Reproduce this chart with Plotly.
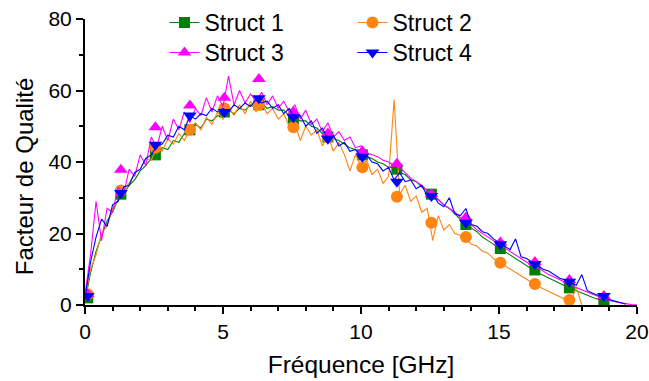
import plotly.graph_objects as go

# Frequency grid (GHz) for the measured curves
freq = [round(i * 0.2, 1) for i in range(101)]

s1_q = [1, 9, 15, 19, 23.5, 26, 29.5, 31, 33.5, 35, 37.5, 39, 41, 41.5, 44, 43.5, 46, 45.5, 48, 48.5,
        50.5, 49.5, 52, 51.5, 53, 52.5, 54.5, 53.5, 55, 54.5, 56, 55, 56.5, 55, 55.5, 54.5, 54.5, 53, 52.5, 51.5,
        51.5, 50, 49.5, 48, 47.5, 46.5, 46, 45, 44, 43.5, 42.5, 41.5, 41, 40, 39.5, 38.5, 38.5, 37, 36.5, 35,
        34.5, 33, 32, 30.5, 29.5, 28, 27, 25.5, 24, 23, 21.5, 20.5, 19, 18, 17, 16, 15, 14, 13, 12,
        11, 10, 9, 8.3, 7.5, 6.8, 6, 5.3, 4.6, 3.9, 3.3, 2.7, 2.1, 1.5, 1, 0.5,
        None, None, None, None, None]

s2_q = [2, 10, 14, 20, 22, 27, 29, 32.5, 34, 37, 38, 41, 40.5, 44, 43, 46.5, 45, 48, 46, 49,
        51, 49, 52.5, 50.5, 54, 52, 55.5, 53, 56, 53.5, 57, 54, 56.5, 53.5, 55, 52, 53.5, 50, 51, 46,
        50, 47.5, 49, 44.5, 47.5, 43, 45.5, 42, 37.5, 42, 39, 40.5, 36.5, 38, 34, 36, 57.5, 31, 33.5, 29,
        30.5, 26, 27, 18, 25, 21, 22.5, 20, 19.5, 18.5, 17, 16.5, 15, 14.5, 13, 12, 11, 10, 9, 8,
        7, 6.2, 5.3, 4.5, 3.8, 3, 2.3, 1.6, 1, 5, 0,
        None, None, None, None, None, None, None, None, None, None]

s3_q = [3, 14, 29, 18, 27, 26, 33, 31, 38, 36, 42, 39, 47, 44, 50, 46, 52, 49, 54, 51,
        55, 53, 58, 54, 58.5, 55.5, 64, 56, 60, 56.5, 59, 57, 59.5, 56, 58.5, 55, 57, 54, 56, 52,
        54.5, 50.5, 52, 48.5, 51, 47, 48.5, 46, 47, 44, 44.5, 42.5, 42, 41.5, 40.5, 40, 39, 38.5, 37, 35.5,
        34.5, 33.5, 32, 30.5, 29.5, 28, 27, 26, 24.5, 23.5, 22.5, 21, 20, 19, 18, 17, 16, 15, 14, 13,
        12, 11, 10.5, 9.5, 8.5, 7.8, 7, 6.3, 5.6, 4.9, 4.2, 3.6, 3, 2.4, 1.8, 1.3, 0.9, 0.6, 0.3, 0.1, 0]

s4_q = [2, 12, 19, 24, 22, 28, 29, 33, 33.5, 37, 38, 41, 42, 44.5, 45, 47.5, 47, 50, 49, 53,
        52, 53.5, 53, 55, 54, 55, 54, 56, 55, 56.5, 55.5, 57.5, 56.5, 57, 55, 56, 53.5, 55, 52, 53,
        50, 51.5, 48, 49.5, 46.5, 47.5, 44.5, 45.5, 43, 43.5, 41.5, 42, 40, 39.5, 37.5, 38.5, 35, 37, 34.5, 35,
        32.5, 33.5, 30.5, 31, 28.5, 27.5, 30, 25.5, 25, 27, 22.5, 22, 20.5, 20, 18.5, 17.5, 16.5, 15.5, 18.5, 13.5,
        13, 12, 11, 10, 9.5, 8.5, 7.5, 7, 6.2, 5.5, 8.5, 4, 3.3, 2.6, 2, 1.5, 1, 0.6, 0.2, None, None]

# Sparse marker positions
mark_f = [0.1, 1.3, 2.55, 3.8, 5.05, 6.3, 7.55, 8.8, 10.05, 11.3, 12.55, 13.8, 15.05, 16.3, 17.55, 18.8]
s1_m = [2, 31, 42, 49, 54, 56, 52, 47, 42, 38, 31, 22.5, 15.8, 9.8, 4.8, 0.9]
s2_m = [3, 32, 44, 49, 55, 56, 49.7, 47, 38.5, 30.3, 23, 19, 11.8, 5.9, 1.4, None]
s3_m = [3, 37.8, 49.7, 55.8, 58, 63.2, 54, 48, 43, 39.5, 31, 24.5, 17.5, 12, 7, 2.5]
s4_m = [2.5, 31.3, 44.8, 53, 54, 57.8, 52.5, 46.5, 41.5, 34.5, 30.5, 23, 17, 11.5, 6.5, 2.5]

names = ["Struct 1", "Struct 2", "Struct 3", "Struct 4"]
colors = ["#008000", "#FF8411", "#FF00FF", "#0000FF"]
symbols = ["square", "circle", "triangle-up", "triangle-down"]
msizes = [11, 12, 12, 12]
legend_ids = ["legend", "legend", "legend2", "legend2"]
series = [s1_q, s2_q, s3_q, s4_q]
marks = [s1_m, s2_m, s3_m, s4_m]

fig = go.Figure()
for name, col, sym, ms, ys, my in zip(names, colors, symbols, msizes, series, marks):
    fig.add_trace(go.Scatter(x=freq, y=ys, mode="lines", line=dict(color=col, width=1.1),
                             showlegend=False, connectgaps=False, hoverinfo="skip"))
    fig.add_trace(go.Scatter(x=mark_f, y=my, mode="markers",
                             marker=dict(symbol=sym, size=ms, color=col, line=dict(width=0)),
                             showlegend=False))
for name, col, sym, ms, lg in zip(names, colors, symbols, msizes, legend_ids):
    fig.add_trace(go.Scatter(x=[None], y=[None], mode="lines+markers", name=name, legend=lg,
                             line=dict(color=col, width=1.1),
                             marker=dict(symbol=sym, size=ms, color=col)))

font = "Liberation Sans, Arial, sans-serif"
legend_common = dict(orientation="h", x=0.144, xanchor="left", xref="paper", yanchor="top",
                     yref="container", bgcolor="rgba(0,0,0,0)", font=dict(size=23),
                     entrywidth=143, entrywidthmode="pixels", tracegroupgap=0)
fig.update_layout(
    width=649, height=381,
    margin=dict(l=85, r=12, t=19, b=76, autoexpand=False),
    paper_bgcolor="white", plot_bgcolor="white",
    font=dict(family=font, size=21, color="black"),
    showlegend=True,
    legend=dict(y=1 - 1 / 381, **legend_common),
    legend2=dict(y=1 - 31 / 381, **legend_common),
    xaxis=dict(range=[0, 20], showgrid=False, zeroline=False, showline=True, linecolor="black",
               linewidth=2, ticks="outside", ticklen=7, tickwidth=1.5, tickcolor="black",
               tickvals=[0, 5, 10, 15, 20], ticktext=["0", "5", "10", "15", "20"],
               minor=dict(ticks="outside", ticklen=4, tickwidth=1.5, dtick=1, tickcolor="black"),
               title=dict(text="Fréquence [GHz]", standoff=14, font=dict(size=24.5)),
               tickfont=dict(size=21), automargin=False),
    yaxis=dict(range=[0, 80], showgrid=False, zeroline=False, showline=True, linecolor="black",
               linewidth=2, ticks="outside", ticklen=7, tickwidth=1.5, tickcolor="black",
               tickvals=[0, 20, 40, 60, 80],
               minor=dict(ticks="outside", ticklen=4, tickwidth=1.5, dtick=10, tickcolor="black"),
               tickfont=dict(size=21), automargin=False),
    annotations=[dict(text="Facteur de Qualité", textangle=-90, xref="paper", yref="paper",
                      x=-0.1105, y=0.447, xanchor="center", yanchor="middle", showarrow=False,
                      font=dict(size=24))],
)

fig.write_html("out.html", post_script="document.body.style.margin='0';",
               config={"displayModeBar": False})
